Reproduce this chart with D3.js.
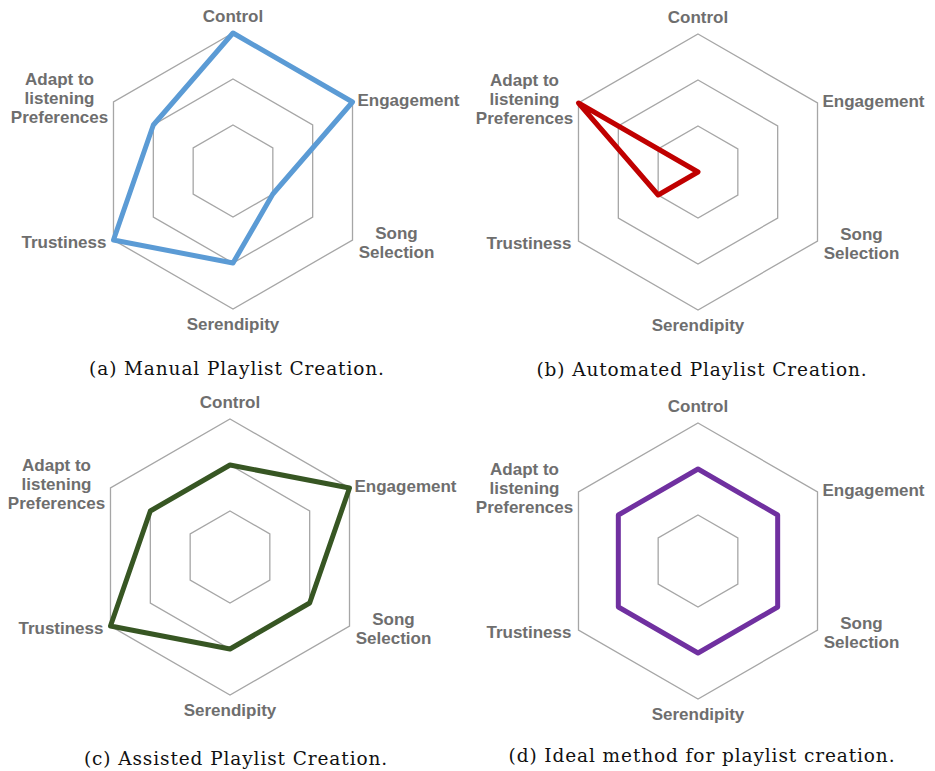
<html>
<style>
    body {
      margin: 0;
      background: #fff;
    }
    .grid {
      fill: none;
      stroke: #a6a6a6;
      stroke-width: 1.3;
    }
    .axis-label {
      font: bold 17px "Liberation Sans", Arial, sans-serif;
      fill: #6e6e6e;
    }
    .caption {
      font: 18.5px "DejaVu Serif", serif;
      letter-spacing: 0.9px;
      fill: #111;
    }
</style>
<body>
<script src="https://d3js.org/d3.v7.min.js"></script>
<script>
// chart data
const axisNames = ["Control", "Engagement", "Song Selection", "Serendipity", "Trustiness", "Adapt to listening Preferences"];
const axisLines = [["Control"], ["Engagement"], ["Song", "Selection"], ["Serendipity"], ["Trustiness"], ["Adapt to", "listening", "Preferences"]];
const levels = [1, 2, 3];
const manual = [3, 3, 1, 2, 3, 2];
const automated = [0, 0, 0, 0, 1, 3];
const assisted = [2, 3, 2, 2, 3, 2];
const ideal = [2, 2, 2, 2, 2, 2];
const captions = ["(a) Manual Playlist Creation.", "(b) Automated Playlist Creation.",
                  "(c) Assisted Playlist Creation.", "(d) Ideal method for playlist creation."];

// layout
const width = 935, height = 771, R = 138;
const panels = [
    {values: manual,    color: "#5b9bd5", cx: 233, cy: 171, capX: 237, capY: 375},
    {values: automated, color: "#c00000", cx: 698, cy: 172, capX: 702, capY: 376},
    {values: assisted,  color: "#375623", cx: 230, cy: 557, capX: 236, capY: 765},
    {values: ideal,     color: "#7030a0", cx: 698, cy: 561, capX: 702, capY: 762}
];
// where each axis label sits relative to its outer vertex
const labelPos = [
    {anchor: "middle", dx: 0,   dy: -11.5},
    {anchor: "start",  dx: 5,   dy: 3.5},
    {anchor: "middle", dx: 44,  dy: -1},
    {anchor: "middle", dx: 0,   dy: 20.5},
    {anchor: "end",    dx: -7,  dy: 8},
    {anchor: "middle", dx: -54, dy: -17}
];
const lineGap = 19;

const rScale = d3.scaleLinear().domain([0, 3]).range([0, R]);
const angle = i => i * 2 * Math.PI / axisNames.length;

const radial = d3.lineRadial()
    .angle((d, i) => angle(i))
    .radius(d => rScale(d))
    .curve(d3.curveLinearClosed);

const svg = d3.select("body").append("svg")
    .attr("width", width)
    .attr("height", height);

panels.forEach((p, k) => {
    const g = svg.append("g").attr("transform", `translate(${p.cx},${p.cy})`);

    // hexagon rings
    g.selectAll(".grid")
        .data(levels)
        .join("path")
        .attr("class", "grid")
        .attr("d", l => radial(axisNames.map(() => l)));

    // series outline
    g.append("path")
        .attr("d", radial(p.values))
        .attr("fill", "none")
        .attr("stroke", p.color)
        .attr("stroke-width", 5)
        .attr("stroke-linejoin", "round");

    // axis labels
    axisLines.forEach((lines, i) => {
        const a = angle(i);
        const vx = Math.sin(a) * rScale(3), vy = -Math.cos(a) * rScale(3);
        const pos = labelPos[i];
        const t = g.append("text")
            .attr("class", "axis-label")
            .attr("text-anchor", pos.anchor);
        lines.forEach((line, j) => {
            t.append("tspan")
                .attr("x", vx + pos.dx)
                .attr("y", vy + pos.dy + j * lineGap)
                .text(line);
        });
    });

    svg.append("text")
        .attr("class", "caption")
        .attr("text-anchor", "middle")
        .attr("x", p.capX)
        .attr("y", p.capY)
        .text(captions[k]);
});
</script>
</body>
</html>
